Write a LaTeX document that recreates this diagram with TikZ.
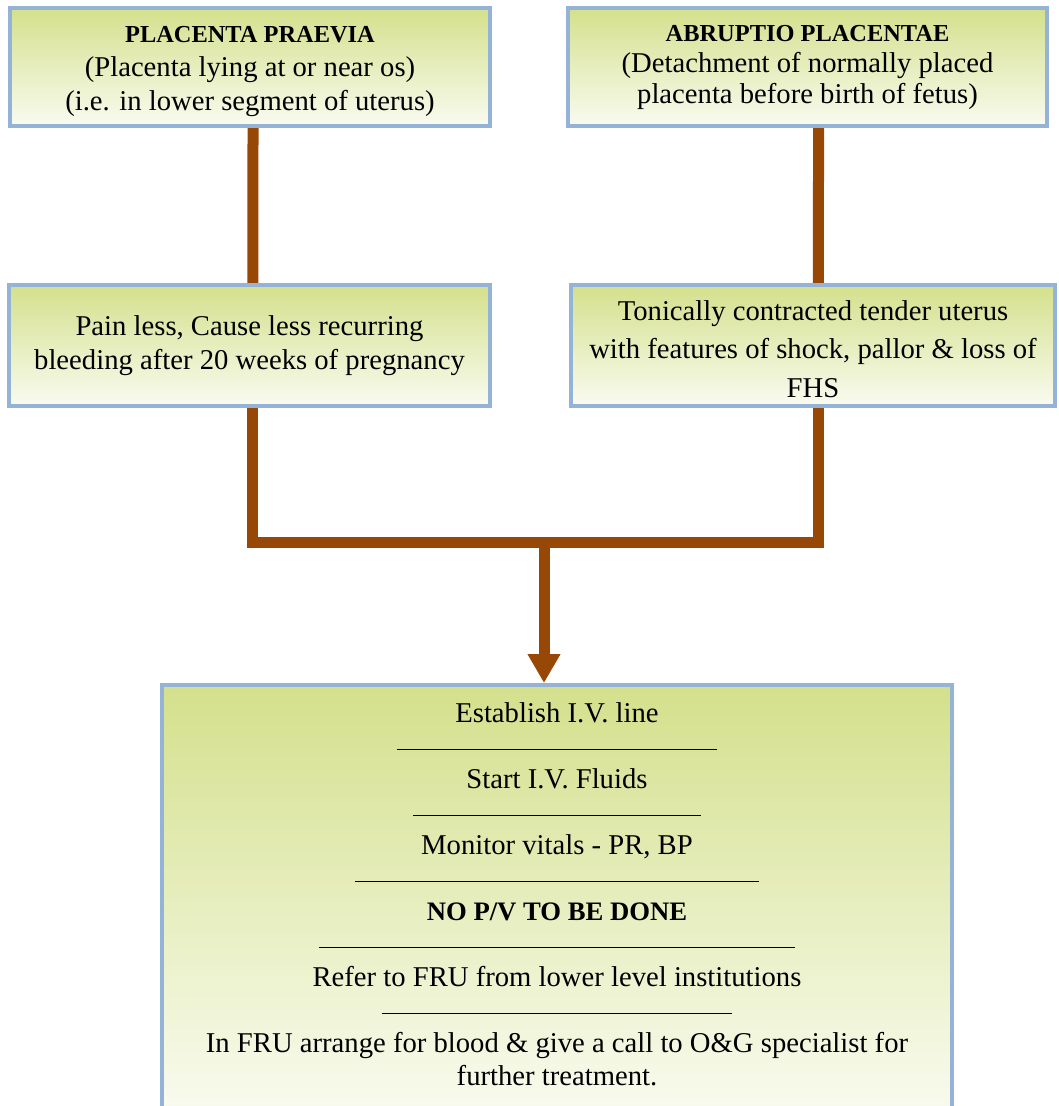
\documentclass[tikz,border=0pt]{standalone}
\usepackage{fontspec}
\setmainfont{Liberation Serif}
\usepackage{tikz}
\usetikzlibrary{arrows.meta, positioning, calc, backgrounds}

\definecolor{boxline}{RGB}{149,179,215}
\definecolor{boxtop}{RGB}{212,224,140}
\definecolor{boxbottom}{RGB}{249,251,240}
\definecolor{linkbrown}{RGB}{152,72,6}

\newcommand{\boxtitle}[1]{{\fontsize{18.3}{25}\selectfont\bfseries #1}}
\newcommand{\divider}[1]{\rule[4pt]{#1}{0.9pt}}

\begin{document}
\begin{tikzpicture}[x=0.75pt, y=0.75pt, every node/.style={font=\fontsize{21.5}{25.5}\selectfont},
	box/.style={draw=boxline, line width=3pt, top color=boxtop, bottom color=boxbottom, align=center, inner sep=0pt},
	link/.style={draw=linkbrown, line width=8.25pt}]
	\useasboundingbox (0,0) rectangle (1058,-1106);

	% the two causes
	\node[box, minimum width=360pt, minimum height=88.5pt, text height=70.5pt] (pp) at (250,-67)
		{\boxtitle{PLACENTA PRAEVIA}\\(Placenta lying at or near os)\\(i.e. in lower segment of uterus)};
	\node[box, minimum width=359.25pt, minimum height=88.5pt, font=\fontsize{21.5}{23.25}\selectfont] (ap) at (807.5,-67)
		{\boxtitle{ABRUPTIO PLACENTAE}\\(Detachment of normally placed\\placenta before birth of fetus)};

	% signs
	\node[box, minimum width=360.75pt, minimum height=90.75pt] (ppsign) at (249.5,-345.5)
		{Pain less, Cause less recurring\\bleeding after 20 weeks of pregnancy};
	\node[box, minimum width=363pt, minimum height=90.75pt, text height=78pt, font=\fontsize{21.5}{29}\selectfont] (apsign) at (813,-345.5)
		{Tonically contracted tender uterus\\with features of shock, pallor \& loss of\\FHS};

	% management
	\node[box, anchor=north, minimum width=592.5pt, minimum height=323.6pt, text depth=9.8pt, font=\fontsize{21.5}{24.75}\selectfont] (care) at (557,-683)
		{Establish I.V. line\\
		\divider{240pt}\\
		Start I.V. Fluids\\
		\divider{216pt}\\
		Monitor vitals - PR, BP\\
		\divider{303pt}\\
		{\fontsize{20}{24.75}\selectfont\bfseries NO P/V TO BE DONE}\\
		\divider{357pt}\\
		Refer to FRU from lower level institutions\\
		\divider{263pt}\\
		In FRU arrange for blood \& give a call to O\&G specialist for\\
		further treatment.};

	\coordinate (join) at (544,-542.5);

	\begin{scope}[on background layer]
		\draw[link] ([xshift=2.25pt]pp.south) -- ([xshift=2.6pt]ppsign.north);
		\draw[link] ([xshift=8.25pt]ap.south) -- ([xshift=4.1pt]apsign.north);
		\draw[link] ([xshift=2.6pt]ppsign.south) |- (join) -| ([xshift=4.1pt]apsign.south);
		\draw[link, -{Triangle[length=21.75pt, width=23.25pt]}] (join) -- (join |- care.north);
	\end{scope}
\end{tikzpicture}
\end{document}
